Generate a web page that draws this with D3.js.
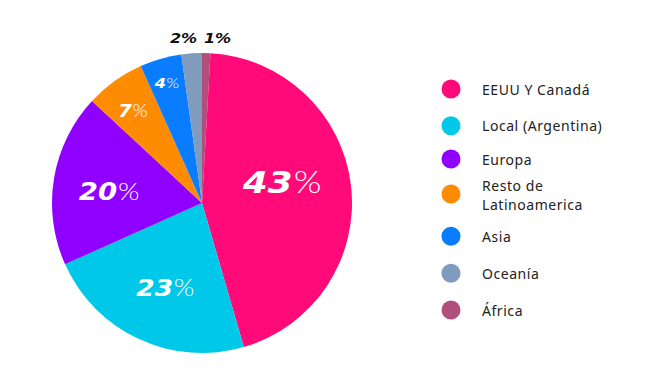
<!DOCTYPE html>
<html>
<head>
<meta charset="utf-8">
<script src="https://cdn.jsdelivr.net/npm/d3@7"></script>
<style>
  body { margin: 0; background: #fff; }
  .legend text { font-family: "Noto Sans", sans-serif; font-size: 14px; letter-spacing: 0.55px; fill: #222; }
  .pct { font-family: "DejaVu Sans", sans-serif; font-style: italic; font-weight: bold; }
  .pct .sign { font-family: Lato, "DejaVu Sans", sans-serif; font-weight: 300; font-style: normal; }
  .pct.outside .sign { font-family: "DejaVu Sans", sans-serif; font-weight: bold; font-style: italic; }
</style>
</head>
<body>
<div id="chart"></div>
<script>
// slices in drawing order, clockwise from the top
const regions = ["África", "EEUU Y Canadá", "Local (Argentina)", "Europa", "Resto de Latinoamerica", "Asia", "Oceanía"]
const shares  = [0.9, 44.6, 22.8, 18.6, 6.4, 4.5, 2.2]
const labels  = ["1%", "43%", "23%", "20%", "7%", "4%", "2%"]
const colors  = ["#b04e7c", "#ff0a78", "#00c8e8", "#8f00ff", "#ff8c00", "#0a7cff", "#7f9cbf"]

// legend order
const legendItems = ["EEUU Y Canadá", "Local (Argentina)", "Europa", "Resto de Latinoamerica", "Asia", "Oceanía", "África"]

let width = 650, height = 385
let cx = 202, cy = 203, radius = 150

let svg = d3.select("#chart").append("svg")
  .attr("width", width)
  .attr("height", height)

let color = d3.scaleOrdinal().domain(regions).range(colors)

let data = regions.map(function(r, i){ return {region: r, value: shares[i], label: labels[i]} })

let pie = d3.pie().sort(null).value(function(d){ return d.value })
let arc = d3.arc().innerRadius(0).outerRadius(radius)

let g = svg.append("g").attr("transform", "translate(" + cx + "," + cy + ")")

let arcs = pie(data)

g.selectAll("path")
  .data(arcs)
  .enter().append("path")
  .attr("d", arc)
  .attr("fill", function(d){ return color(d.data.region) })

// label placement per slice: radius factor, angle nudge (deg) and font size
let labelStyle = {
  "EEUU Y Canadá":          {r: 0.545, nudge: -8.5, size: 31, fill: "#fff"},
  "Local (Argentina)":      {r: 0.62, nudge: -1, size: 23, fill: "#fff"},
  "Europa":                 {r: 0.63, nudge: -2, size: 24, fill: "#fff"},
  "Resto de Latinoamerica": {r: 0.77, nudge: -1.5, size: 17, fill: "#fff"},
  "Asia":                   {r: 0.835, nudge: -0.5, size: 14, fill: "#fff"},
  "Oceanía":                {r: 1.10, nudge: 0, size: 14, fill: "#111", outside: true},
  "África":                 {r: 1.10, nudge: 0, size: 14, fill: "#111", outside: true}
}

let labelG = g.append("g")
arcs.forEach(function(d){
  let st = labelStyle[d.data.region]
  let mid = (d.startAngle + d.endAngle) / 2 + st.nudge * Math.PI / 180
  let x = Math.sin(mid) * radius * st.r
  let y = -Math.cos(mid) * radius * st.r
  // the two tiny slices put their labels side by side above the pie
  if (d.data.region == "África") { x = 15 }
  if (d.data.region == "Oceanía") { x = -19 }
  let t = labelG.append("text")
    .attr("class", st.outside ? "pct outside" : "pct")
    .attr("transform", "translate(" + (x + st.size * 0.04) + "," + (y + st.size * 0.36) + ") scale(1.15,1)")
    .attr("text-anchor", "middle")
    .attr("fill", st.fill)
    .style("font-size", st.size + "px")
  let num = d.data.label.replace("%", "")
  t.append("tspan").text(num)
  t.append("tspan").attr("class", "sign").attr("dx", st.outside ? 0 : st.size * 0.03).text("%")
})

// legend
let legend = svg.append("g").attr("class", "legend")
let legendY = d3.scalePoint().domain(legendItems).range([89, 310])

legendItems.forEach(function(name){
  let y = legendY(name)
  if (name == "Europa") { y = 159 }
  if (name == "Resto de Latinoamerica") { y = 194 }
  let row = legend.append("g").attr("transform", "translate(451," + y + ")")
  row.append("circle").attr("r", 9.5).attr("fill", color(name))
  let t = row.append("text").attr("x", 31).attr("dominant-baseline", "central")
  if (name == "Resto de Latinoamerica") {
    t.append("tspan").attr("x", 31).attr("y", -9.5).text("Resto de")
    t.append("tspan").attr("x", 31).attr("y", 10).text("Latinoamerica")
  } else {
    t.text(name)
  }
})
</script>
</body>
</html>
